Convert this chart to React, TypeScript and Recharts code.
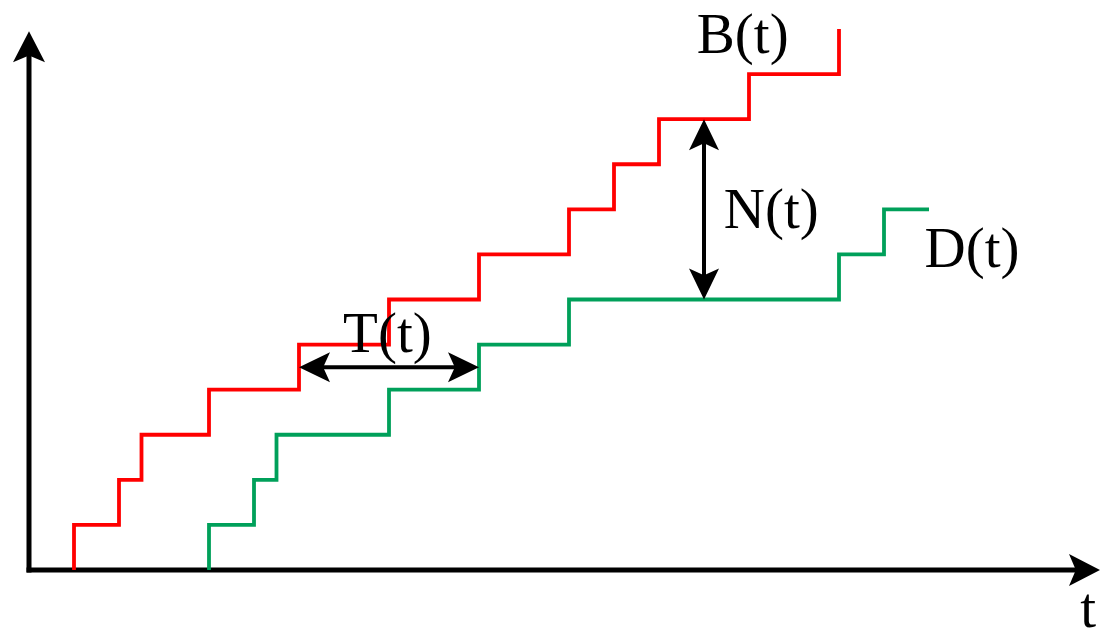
// Cumulative arrivals B(t) / departures D(t) step diagram
import { LineChart, Line, XAxis, YAxis, ReferenceLine, ReferenceDot } from 'recharts';

// arrivals: (time, cumulative count) — each point is where the step rises
const arrivalT = [1, 1, 2, 2.5, 4, 6, 8, 10, 12, 13, 14, 16, 18];
const arrivalN = [0, 1, 2, 3, 4, 5, 6, 7, 8, 9, 10, 11, 12];

// departures
const departureT = [4, 4, 5, 5.5, 8, 10, 12, 18, 19, 20];
const departureN = [0, 1, 2, 3, 4, 5, 6, 7, 8, 8];

// T(t): horizontal gap, N(t): vertical gap
const delayT = [6, 10];
const delayN = 4.5;
const queueT = 15;
const queueN = [6, 10];

// text annotations
const labelText = ['B(t)', 'N(t)', 'D(t)', 'T(t)', 't'];
const labelT = [14.84, 15.44, 19.9, 6.98, 23.36];
const labelN = [11.47, 7.59, 6.72, 4.84, -1.27];

const X_MAX = 23.8;
const Y_MAX = 12.2;

const arrivals = arrivalT.map((t, i) => ({ t, n: arrivalN[i] }));
const departures = departureT.map((t, i) => ({ t, n: departureN[i] }));

function head(x: number, y: number, ux: number, uy: number, len: number, half: number) {
  // tip at (x,y), pointing along (ux,uy)
  const bx = x - ux * len;
  const by = y - uy * len;
  const nx = bx + ux * len * 0.22;
  const ny = by + uy * len * 0.22;
  const px = -uy;
  const py = ux;
  return `${x},${y} ${bx + px * half},${by + py * half} ${nx},${ny} ${bx - px * half},${by - py * half}`;
}

function makeArrow(opts: { start?: boolean; end?: boolean; width: number; len: number; half: number }) {
  return (props: any) => {
    const { x1, y1, x2, y2 } = props;
    if ([x1, y1, x2, y2].some((v) => v == null || isNaN(v))) return <g />;
    const dx = x2 - x1;
    const dy = y2 - y1;
    const d = Math.sqrt(dx * dx + dy * dy) || 1;
    const ux = dx / d;
    const uy = dy / d;
    const cut = opts.len * 0.8;
    const sx = opts.start ? x1 + ux * cut : x1;
    const sy = opts.start ? y1 + uy * cut : y1;
    const ex = opts.end ? x2 - ux * cut : x2;
    const ey = opts.end ? y2 - uy * cut : y2;
    return (
      <g>
        <line x1={sx} y1={sy} x2={ex} y2={ey} stroke="#000" strokeWidth={opts.width} strokeLinecap="square" />
        {opts.start && <polygon points={head(x1, y1, -ux, -uy, opts.len, opts.half)} fill="#000" />}
        {opts.end && <polygon points={head(x2, y2, ux, uy, opts.len, opts.half)} fill="#000" />}
      </g>
    );
  };
}

const axisArrow = makeArrow({ end: true, width: 5, len: 31, half: 16 });
const doubleArrow = makeArrow({ start: true, end: true, width: 4, len: 31, half: 15 });

export default function App() {
  return (
    <div style={{ position: 'absolute', left: 0, top: 0, background: '#fff' }}>
      <LineChart width={1100} height={635} margin={{ top: 20, right: 0, bottom: 65, left: 29 }}>
        <XAxis type="number" dataKey="t" domain={[0, X_MAX]} hide allowDataOverflow />
        <YAxis type="number" dataKey="n" domain={[0, Y_MAX]} hide allowDataOverflow />

        {/* axes with arrow tips */}
        <ReferenceLine segment={[{ x: 0, y: 0 }, { x: 0, y: 11.95 }]} ifOverflow="visible" shape={axisArrow} />
        <ReferenceLine segment={[{ x: 0, y: 0 }, { x: X_MAX, y: 0 }]} ifOverflow="visible" shape={axisArrow} />

        <Line
          data={arrivals}
          dataKey="n"
          type="stepAfter"
          stroke="#ff0000"
          strokeWidth={3.8}
          dot={false}
          isAnimationActive={false}
        />
        <Line
          data={departures}
          dataKey="n"
          type="stepAfter"
          stroke="#00a05a"
          strokeWidth={3.8}
          dot={false}
          isAnimationActive={false}
        />

        <ReferenceLine
          segment={[{ x: delayT[0], y: delayN }, { x: delayT[1], y: delayN }]}
          ifOverflow="visible"
          shape={doubleArrow}
        />
        <ReferenceLine
          segment={[{ x: queueT, y: queueN[1] }, { x: queueT, y: queueN[0] }]}
          ifOverflow="visible"
          shape={doubleArrow}
        />

        {labelText.map((txt, i) => (
          <ReferenceDot
            key={txt}
            x={labelT[i]}
            y={labelN[i]}
            r={0}
            ifOverflow="visible"
            shape={(p: any) => (
              <text
                x={p.cx}
                y={p.cy}
                fontFamily="'Liberation Serif', 'Times New Roman', serif"
                fontSize={57}
                fill="#000"
              >
                {txt}
              </text>
            )}
          />
        ))}
      </LineChart>
    </div>
  );
}
